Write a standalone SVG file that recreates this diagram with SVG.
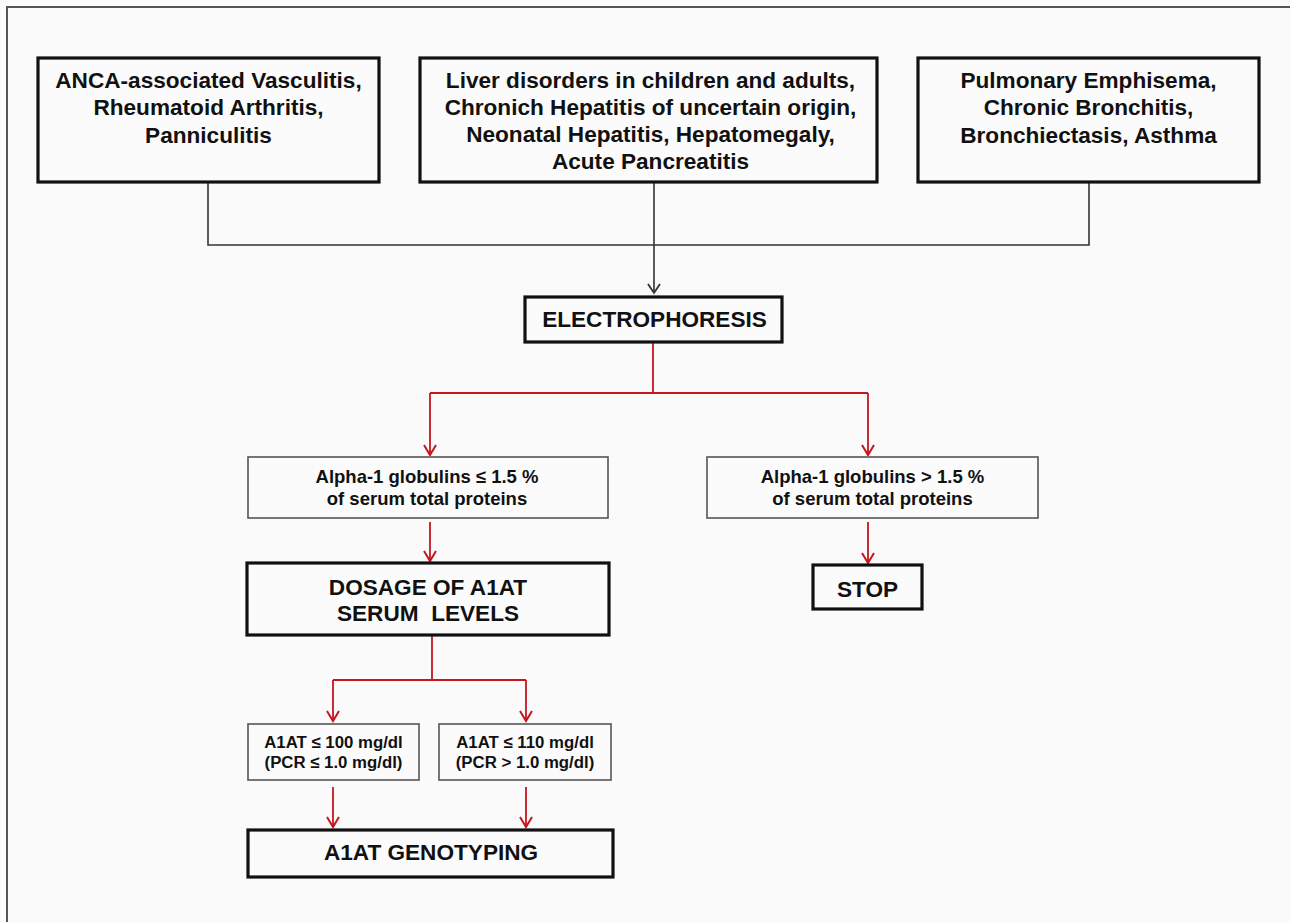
<svg xmlns="http://www.w3.org/2000/svg" width="1290" height="922" viewBox="0 0 1290 922">
<style>
.bg{fill:#fafafa}
.frame{fill:none;stroke:#555;stroke-width:2}
.thick{fill:#fbfbfb;stroke:#111;stroke-width:3.2}
.thin{fill:#fbfbfb;stroke:#555;stroke-width:1.6}
text{font-family:"Liberation Sans",Arial,sans-serif;font-weight:bold;fill:#111;text-anchor:middle}
.big{font-size:22.6px}
.mid{font-size:18.5px}
.sm{font-size:16.8px}
.blk{fill:none;stroke:#333;stroke-width:1.6}
.red{fill:none;stroke:#c4161c;stroke-width:1.8}
</style>
<defs>
<marker id="ab" viewBox="-12 -8 14 16" markerWidth="14" markerHeight="16" refX="0" refY="0" orient="auto" markerUnits="userSpaceOnUse">
<path d="M-9,-6 L0,0 L-9,6" fill="none" stroke="#333" stroke-width="1.8"/>
</marker>
<marker id="ar" viewBox="-12 -8 14 16" markerWidth="14" markerHeight="16" refX="0" refY="0" orient="auto" markerUnits="userSpaceOnUse">
<path d="M-10,-6 L0,0 L-10,6" fill="none" stroke="#c4161c" stroke-width="2"/>
</marker>
</defs>
<rect class="bg" x="0" y="0" width="1290" height="922"/>
<path class="frame" d="M7,922 V7 H1290"/>

<g id="connectors">
<path class="blk" d="M208,182 V245 H1089 V182"/>
<path class="blk" d="M654,182 V293" marker-end="url(#ab)"/>
<path class="red" d="M653,342 V393"/>
<path class="red" d="M430,393 H868"/>
<path class="red" d="M430,393 V455" marker-end="url(#ar)"/>
<path class="red" d="M868,393 V455" marker-end="url(#ar)"/>
<path class="red" d="M430,522 V561" marker-end="url(#ar)"/>
<path class="red" d="M868,522 V563" marker-end="url(#ar)"/>
<path class="red" d="M432,635 V680"/>
<path class="red" d="M333,680 H526"/>
<path class="red" d="M333,680 V721" marker-end="url(#ar)"/>
<path class="red" d="M526,680 V721" marker-end="url(#ar)"/>
<path class="red" d="M333,787 V827" marker-end="url(#ar)"/>
<path class="red" d="M526,787 V827" marker-end="url(#ar)"/>
</g>

<g id="n-anca">
<rect class="thick" x="38" y="58" width="341" height="124"/>
<text class="big" x="208.5" y="88">ANCA-associated Vasculitis,</text>
<text class="big" x="208.5" y="115">Rheumatoid Arthritis,</text>
<text class="big" x="208.5" y="143">Panniculitis</text>
</g>

<g id="n-liver">
<rect class="thick" x="420" y="58" width="457" height="124"/>
<text class="big" x="650.5" y="88">Liver disorders in children and adults,</text>
<text class="big" x="650.5" y="115">Chronich Hepatitis of uncertain origin,</text>
<text class="big" x="650.5" y="142">Neonatal Hepatitis, Hepatomegaly,</text>
<text class="big" x="650.5" y="169">Acute Pancreatitis</text>
</g>

<g id="n-pulm">
<rect class="thick" x="918" y="58" width="341" height="124"/>
<text class="big" x="1088.5" y="88">Pulmonary Emphisema,</text>
<text class="big" x="1088.5" y="115">Chronic Bronchitis,</text>
<text class="big" x="1088.5" y="143">Bronchiectasis, Asthma</text>
</g>

<g id="n-electro">
<rect class="thick" x="525" y="297" width="257" height="45"/>
<text class="big" x="654.5" y="327">ELECTROPHORESIS</text>
</g>

<g id="n-alpha-low">
<rect class="thin" x="248" y="457" width="360" height="61"/>
<text class="mid" x="427" y="483">Alpha-1 globulins ≤ 1.5 %</text>
<text class="mid" x="427" y="505">of serum total proteins</text>
</g>

<g id="n-alpha-high">
<rect class="thin" x="707" y="457" width="331" height="61"/>
<text class="mid" x="872.5" y="483">Alpha-1 globulins &gt; 1.5 %</text>
<text class="mid" x="872.5" y="505">of serum total proteins</text>
</g>

<g id="n-dosage">
<rect class="thick" x="247" y="563" width="362" height="72"/>
<text class="big" x="428" y="595">DOSAGE OF A1AT</text>
<text class="big" x="428" y="621" xml:space="preserve">SERUM  LEVELS</text>
</g>

<g id="n-stop">
<rect class="thick" x="813" y="565" width="109" height="44"/>
<text class="big" x="867.5" y="597">STOP</text>
</g>

<g id="n-a1at-100">
<rect class="thin" x="248" y="724" width="171" height="56"/>
<text class="sm" x="333.5" y="748">A1AT ≤ 100 mg/dl</text>
<text class="sm" x="333.5" y="768">(PCR ≤ 1.0 mg/dl)</text>
</g>

<g id="n-a1at-110">
<rect class="thin" x="439" y="724" width="172" height="56"/>
<text class="sm" x="525" y="748">A1AT ≤ 110 mg/dl</text>
<text class="sm" x="525" y="768">(PCR &gt; 1.0 mg/dl)</text>
</g>

<g id="n-genotyping">
<rect class="thick" x="248" y="830" width="365" height="47"/>
<text class="big" x="431" y="860">A1AT GENOTYPING</text>
</g>
</svg>
